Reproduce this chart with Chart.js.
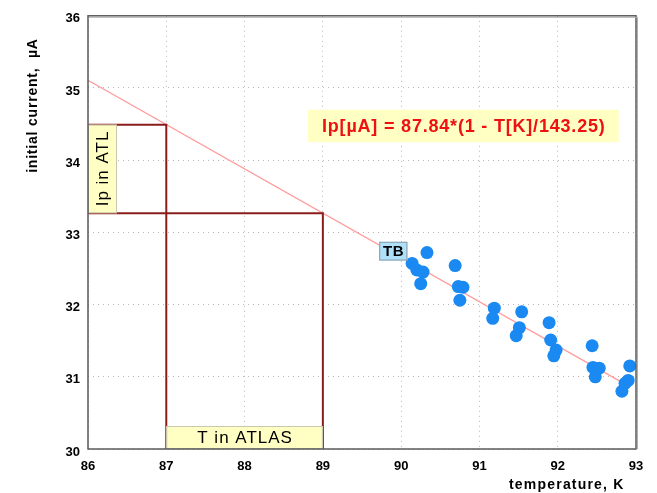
<!DOCTYPE html>
<html>
<head>
<meta charset="utf-8">
<script src="https://cdn.jsdelivr.net/npm/chart.js@4"></script>
<style>
  html, body { margin: 0; padding: 0; background: #fff; }
</style>
</head>
<body>
<canvas id="ipChart" width="657" height="493"></canvas>
<script>
// measured points: temperature (K) vs initial current (uA)
var tempK = [90.33, 90.14, 90.20, 90.28, 90.25, 90.69, 90.73, 90.79, 90.75,
             91.19, 91.17, 91.54, 91.51, 91.47, 91.89, 91.91, 91.98, 91.95,
             92.44, 92.45, 92.53, 92.48, 92.92, 92.90, 92.86, 92.82];
var currentUA = [32.72, 32.57, 32.48, 32.45, 32.29, 32.54, 32.25, 32.24, 32.06,
                 31.95, 31.81, 31.90, 31.68, 31.57, 31.75, 31.51, 31.37, 31.29,
                 31.43, 31.13, 31.12, 31.00, 31.15, 30.95, 30.91, 30.80];
var xTicks = [86, 87, 88, 89, 90, 91, 92, 93];
var yTicks = [30, 31, 32, 33, 34, 35, 36];

// fit Ip = A*(1 - T/Tc)
var fitA = 87.84;
var fitTc = 143.25;
var fitRange = [86, 92.9];
// temperature range in ATLAS
var atlasT = [87, 89];

function ipAt(t) { return fitA * (1 - t / fitTc); }

var points = [];
for (var i = 0; i < tempK.length; i++) {
  points.push({x: tempK[i], y: currentUA[i]});
}

var fitLine = fitRange.map(function(t) { return {x: t, y: ipAt(t)}; });

var guides = atlasT.map(function(t) {
  return [{x: 86, y: ipAt(t)}, {x: t, y: ipAt(t)}, {x: t, y: 30}];
});

var FONT = '"Liberation Sans", Arial, Helvetica, sans-serif';

function box(ctx, x0, y0, x1, y1, fill, stroke) {
  ctx.fillStyle = fill;
  ctx.fillRect(x0, y0, x1 - x0, y1 - y0);
  ctx.strokeStyle = stroke;
  ctx.lineWidth = 1;
  ctx.strokeRect(x0 + 0.5, y0 + 0.5, x1 - x0 - 1, y1 - y0 - 1);
}

function label(ctx, text, x, y, font, spacing) {
  ctx.font = font;
  ctx.letterSpacing = spacing + 'px';
  ctx.fillText(text, x + spacing / 2, y);
  ctx.letterSpacing = '0px';
}

var decorations = {
  id: 'decorations',
  afterDatasetsDraw: function(chart) {
    var ctx = chart.ctx;
    var xs = chart.scales.x, ys = chart.scales.y;
    var area = chart.chartArea;
    ctx.save();
    ctx.textAlign = 'center';
    ctx.textBaseline = 'middle';

    // "Ip in ATL" box on the current axis
    var bx0 = area.left, bx1 = area.left + 29;
    var by0 = ys.getPixelForValue(ipAt(atlasT[0])), by1 = ys.getPixelForValue(ipAt(atlasT[1]));
    box(ctx, bx0, by0, bx1, by1, '#ffffc4', '#c8c8b0');
    ctx.save();
    ctx.translate((bx0 + bx1) / 2 + 1, (by0 + by1) / 2);
    ctx.rotate(-Math.PI / 2);
    ctx.fillStyle = '#000';
    label(ctx, 'Ip in ATL', 0, 0, '17px ' + FONT, 1);
    ctx.restore();

    // "T in ATLAS" box on the temperature axis
    var tx0 = xs.getPixelForValue(atlasT[0]), tx1 = xs.getPixelForValue(atlasT[1]);
    box(ctx, tx0, area.bottom - 23, tx1, area.bottom, '#ffffc4', '#c8c8b0');
    ctx.fillStyle = '#000';
    label(ctx, 'T in ATLAS', (tx0 + tx1) / 2, area.bottom - 11, '17px ' + FONT, 1);

    // fit equation
    var ex0 = xs.getPixelForValue(88.81), ex1 = xs.getPixelForValue(92.78);
    var ey0 = ys.getPixelForValue(34.70), ey1 = ys.getPixelForValue(34.25);
    ctx.fillStyle = '#ffffc4';
    ctx.fillRect(ex0, ey0, ex1 - ex0, ey1 - ey0);
    ctx.fillStyle = '#ee1111';
    label(ctx, 'Ip[\u00b5A] = ' + fitA + '*(1 - T[K]/' + fitTc + ')',
          (ex0 + ex1) / 2, (ey0 + ey1) / 2 + 1, 'bold 18px ' + FONT, 0.8);

    // TB label
    var lx0 = xs.getPixelForValue(89.72), lx1 = xs.getPixelForValue(90.08);
    var ly0 = ys.getPixelForValue(32.87), ly1 = ys.getPixelForValue(32.61);
    box(ctx, lx0, ly0, lx1, ly1, '#aee0fa', '#8a9aa6');
    ctx.fillStyle = '#000';
    label(ctx, 'TB', (lx0 + lx1) / 2, (ly0 + ly1) / 2 + 1, 'bold 15px ' + FONT, 0.5);

    // plot frame
    ctx.strokeStyle = '#5a5a5a';
    ctx.lineWidth = 1.5;
    ctx.strokeRect(area.left, area.top, area.right - area.left, area.bottom - area.top);
    ctx.strokeStyle = '#b0b0b0';
    ctx.lineWidth = 1;
    ctx.beginPath();
    ctx.moveTo(area.left + 1, area.top + 1.5);
    ctx.lineTo(area.right + 1.5, area.top + 1.5);
    ctx.lineTo(area.right + 1.5, area.bottom);
    ctx.stroke();

    // axis titles
    ctx.fillStyle = '#000';
    ctx.textAlign = 'right';
    label(ctx, 'temperature, K', 624, 485, 'bold 14px ' + FONT, 1.2);
    ctx.save();
    ctx.translate(33, 106);
    ctx.rotate(-Math.PI / 2);
    ctx.textAlign = 'center';
    label(ctx, 'initial current,  \u00b5A', 0, 0, 'bold 14px ' + FONT, 0.8);
    ctx.restore();

    ctx.restore();
  }
};

new Chart(document.getElementById('ipChart'), {
  type: 'scatter',
  data: {
    datasets: [
      {
        data: points,
        backgroundColor: '#1a8af2',
        borderColor: '#1a8af2',
        pointRadius: 6.5,
        pointBorderWidth: 0,
        order: 0
      },
      {
        data: guides[0],
        showLine: true,
        borderColor: '#8b1c1c',
        borderWidth: 2,
        pointRadius: 0,
        order: 1
      },
      {
        data: guides[1],
        showLine: true,
        borderColor: '#8b1c1c',
        borderWidth: 2,
        pointRadius: 0,
        order: 1
      },
      {
        data: fitLine,
        showLine: true,
        borderColor: '#ff9c9c',
        borderWidth: 1.2,
        pointRadius: 0,
        order: 2
      }
    ]
  },
  options: {
    responsive: false,
    animation: false,
    layout: { padding: { top: 7, right: 21, left: 0, bottom: 0 } },
    plugins: { legend: { display: false }, tooltip: { enabled: false } },
    scales: {
      x: {
        type: 'linear',
        min: 86,
        max: 93,
        afterBuildTicks: function(s) { s.ticks = xTicks.map(function(v) { return {value: v}; }); },
        afterFit: function(s) { s.height = 44; },
        grid: { color: '#b8b8b8', drawTicks: false },
        border: { display: false, dash: [1, 4] },
        ticks: { color: '#000', padding: 10, font: { family: FONT, size: 13, weight: 'bold' } }
      },
      y: {
        type: 'linear',
        min: 30,
        max: 36,
        afterBuildTicks: function(s) { s.ticks = yTicks.map(function(v) { return {value: v}; }); },
        afterFit: function(s) { s.width = 88; },
        grid: { color: '#b8b8b8', drawTicks: false },
        border: { display: false, dash: [1, 4] },
        ticks: { color: '#000', padding: 8, labelOffset: 3, font: { family: FONT, size: 13, weight: 'bold' } }
      }
    }
  },
  plugins: [decorations]
});
</script>
</body>
</html>
